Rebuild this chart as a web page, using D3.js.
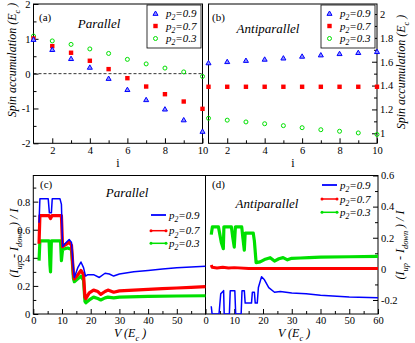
<!DOCTYPE html>
<html>
<head>
<meta charset="utf-8">
<script src="https://cdn.jsdelivr.net/npm/d3@7"></script>
<style>
  body { margin: 0; background: #fff; }
  svg { display: block; font-family: "Liberation Serif", "DejaVu Serif", serif; }
  .tick text { font-size: 10.5px; fill: #000; }
  .tick line { stroke: #000; }
</style>
</head>
<body>
<svg id="fig" width="415" height="343"></svg>
<script>
// ---- data ----
const sites = d3.range(1, 11)

// (a) parallel, spin accumulation per island
const parP09 = [0.98, 0.69, 0.43, 0.18, -0.14, -0.46, -0.75, -1.02, -1.33, -1.66]
const parP07 = [1.01, 0.79, 0.6, 0.37, 0.13, -0.13, -0.37, -0.59, -0.8, -1.01]
const parP03 = [1.08, 0.94, 0.84, 0.71, 0.58, 0.41, 0.28, 0.16, 0.05, -0.08]

// (b) antiparallel
const antiP09 = [1.59, 1.6, 1.61, 1.62, 1.63, 1.645, 1.656, 1.667, 1.676, 1.684]
const antiP07 = [1.39, 1.39, 1.39, 1.39, 1.39, 1.39, 1.39, 1.39, 1.39, 1.39]
const antiP03 = [1.126, 1.11, 1.095, 1.08, 1.064, 1.047, 1.03, 1.017, 1.003, 0.99]

// (c) parallel, current polarisation vs V  [V, value]
const polParP09 = [[2, 0.65], [2.3, 0.82], [5.2, 0.82], [5.6, 0.72], [6.3, 0.72], [6.6, 0.82], [9.3, 0.82], [9.8, 0.78],
  [10.2, 0.48], [11, 0.5], [12.5, 0.53], [13.3, 0.51], [14, 0.32], [14.3, 0.26], [15.5, 0.33], [16.6, 0.37], [17.5, 0.33],
  [18.2, 0.27], [19, 0.28], [21, 0.28], [23, 0.26], [25, 0.29], [26.5, 0.285], [28, 0.27], [30, 0.285], [35, 0.3],
  [40, 0.31], [45, 0.32], [50, 0.33], [55, 0.335], [60, 0.34]]
const polParP07 = [[2, 0.5], [2.3, 0.7], [5.5, 0.7], [6, 0.68], [6.5, 0.7], [9.8, 0.7], [10.2, 0.48], [11, 0.49],
  [12.5, 0.51], [13.3, 0.49], [14, 0.28], [14.3, 0.25], [15.5, 0.28], [16.6, 0.31], [17.5, 0.28], [18, 0.12], [18.3, 0.11],
  [19.5, 0.15], [21, 0.17], [22.5, 0.16], [23.5, 0.14], [25, 0.16], [26, 0.17], [28, 0.155], [30, 0.165], [35, 0.17],
  [40, 0.175], [45, 0.18], [50, 0.185], [55, 0.19], [60, 0.195]]
const polParP03 = [[2, 0.38], [2.3, 0.52], [5.5, 0.52], [5.8, 0.35], [6, 0.3], [6.3, 0.52], [9.5, 0.52], [9.8, 0.38],
  [10.2, 0.46], [11, 0.465], [12, 0.47], [13.3, 0.46], [14, 0.25], [14.3, 0.23], [15.5, 0.25], [16.6, 0.27], [17.5, 0.24],
  [18, 0.09], [18.3, 0.08], [19.5, 0.1], [21, 0.12], [22.5, 0.11], [23.5, 0.1], [25, 0.115], [26, 0.12], [28, 0.115],
  [30, 0.12], [40, 0.125], [50, 0.128], [60, 0.13]]

// (d) antiparallel
const polAntiP09 = [[2, -0.24], [2.3, -0.29], [4.7, -0.29], [5.3, -0.16], [6.3, -0.14], [6.5, -0.29], [8.3, -0.29],
  [8.6, -0.14], [10.2, -0.14], [10.5, -0.29], [12.4, -0.29], [12.7, -0.14], [13.5, -0.14], [13.8, -0.22], [16, -0.22],
  [16.3, -0.15], [17, -0.15], [17.3, -0.22], [18, -0.22], [18.4, -0.12], [19.5, -0.05], [20.5, -0.07], [22, -0.12],
  [24, -0.15], [26, -0.145], [28, -0.15], [30, -0.155], [35, -0.16], [40, -0.17], [50, -0.18], [60, -0.185]]
const polAntiP07 = [[2, 0.025], [2.3, 0.01], [4, 0.005], [6, 0.01], [8, 0.005], [10, 0.008], [15, 0.003], [20, 0.002],
  [30, 0.002], [60, 0.002]]
const polAntiP03 = [[2, 0.22], [2.4, 0.27], [4.5, 0.27], [5, 0.22], [5.5, 0.17], [6.2, 0.13], [6.4, 0.27], [9, 0.27],
  [9.5, 0.2], [10, 0.14], [10.4, 0.27], [12.6, 0.27], [13, 0.2], [13.5, 0.12], [13.8, 0.23], [16.6, 0.23], [17, 0.18],
  [17.6, 0.04], [19, 0.045], [20.5, 0.06], [22.5, 0.072], [24, 0.05], [25.5, 0.065], [27, 0.072], [28.5, 0.058],
  [30, 0.068], [33, 0.07], [36, 0.072], [40, 0.075], [50, 0.078], [60, 0.08]]

const legendLabels = ['0.9', '0.7', '0.3']
const blue = '#0000ff', red = '#ff0000', green = '#00e000'
const serif = '"Liberation Serif", "DejaVu Serif", serif'

// ---- scales ----
const xA = d3.scaleLinear().domain([1, 10]).range([33.5, 202.5])
const yA = d3.scaleLinear().domain([-2, 2]).range([143.3, 4])
const xB = d3.scaleLinear().domain([1, 10]).range([208.5, 377])
const yB = d3.scaleLinear().domain([0.916, 2.084]).range([143.3, 4])
const xC = d3.scaleLinear().domain([0, 60]).range([33.3, 205.5])
const yC = d3.scaleLinear().domain([0, 0.986]).range([314, 175.5])
const xD = d3.scaleLinear().domain([0, 60]).range([205.5, 378])
const yD = d3.scaleLinear().domain([-0.29, 0.6]).range([314, 175.5])

const svg = d3.select('#fig')

const frame = (x, y) => svg.append('rect')
  .attr('x', x.range()[0]).attr('y', y.range()[1])
  .attr('width', x.range()[1] - x.range()[0])
  .attr('height', y.range()[0] - y.range()[1])
  .attr('fill', 'none').attr('stroke', '#000').attr('stroke-width', 1)

const axis = (make, scale, pos, major, minor, fmt) => {
  const [tx, ty] = pos
  svg.append('g').attr('transform', `translate(${tx},${ty})`)
    .call(make(scale).tickValues(minor).tickSize(-3).tickFormat(''))
    .call(g => g.select('.domain').remove())
  svg.append('g').attr('transform', `translate(${tx},${ty})`)
    .call(make(scale).tickValues(major).tickSize(-5).tickPadding(3).tickFormat(fmt))
    .attr('font-family', serif).attr('font-size', 10.5)
    .call(g => g.select('.domain').remove())
}

// rich text: parts are [text, 'sub'|undefined]
const richText = (g, x, y, parts, size, italic) => {
  const t = g.append('text').attr('x', x).attr('y', y)
    .attr('font-size', size).attr('font-style', italic ? 'italic' : 'normal')
  let shift = 0
  parts.forEach(([s, kind]) => {
    const want = kind === 'sub' ? size * 0.3 : 0
    t.append('tspan').attr('dy', want - shift)
      .attr('font-size', kind === 'sub' ? size * 0.7 : size)
      .text(s)
    shift = want
  })
  return t
}

const label = (x, y, text, size, italic, anchor = 'start') => svg.append('text')
  .attr('x', x).attr('y', y).attr('font-size', size)
  .attr('font-style', italic ? 'italic' : 'normal')
  .attr('text-anchor', anchor).text(text)

const vlabel = (x, y, parts, size) => {
  const g = svg.append('g').attr('transform', `translate(${x},${y}) rotate(-90)`)
  richText(g, 0, 0, parts, size, true).attr('text-anchor', 'middle')
}

const marker = {
  tri: (g, x, y) => g.append('path').attr('d', d3.symbol(d3.symbolTriangle, 11)())
    .attr('transform', `translate(${x},${y + 0.4})`).attr('fill', '#9090ff').attr('stroke', blue).attr('stroke-width', 1),
  sq: (g, x, y) => g.append('rect').attr('x', x - 2.2).attr('y', y - 2.2).attr('width', 4.4).attr('height', 4.4)
    .attr('fill', red),
  circ: (g, x, y) => g.append('circle').attr('cx', x).attr('cy', y).attr('r', 2)
    .attr('fill', 'none').attr('stroke', green).attr('stroke-width', 1),
}

// ---- panel (a) ----
frame(xA, yA)
svg.append('line').attr('x1', xA.range()[0]).attr('x2', xA.range()[1])
  .attr('y1', yA(0)).attr('y2', yA(0))
  .attr('stroke', '#000').attr('stroke-dasharray', '3,2').attr('stroke-width', 0.8)
axis(d3.axisBottom, xA, [0, 143.3], [2, 4, 6, 8, 10], [3, 5, 7, 9], d3.format('d'))
axis(d3.axisLeft, yA, [33.5, 0], [-2, -1, 0, 1, 2], [-1.5, -0.5, 0.5, 1.5], d => String(d))

// ---- panel (b) ----
frame(xB, yB)
axis(d3.axisBottom, xB, [0, 143.3], [2, 4, 6, 8, 10], [3, 5, 7, 9], d3.format('d'))
axis(d3.axisRight, yB, [377, 0], [1, 1.2, 1.4, 1.6, 1.8, 2],
  [1.1, 1.3, 1.5, 1.7, 1.9], d => d === 1 || d === 2 ? String(d) : d3.format('.1f')(d))

const pts = svg.append('g')
const drawSites = (x, y, vals, kind) => vals.forEach((v, i) => marker[kind](pts, x(sites[i]), y(v)))
drawSites(xA, yA, parP03, 'circ')
drawSites(xA, yA, parP07, 'sq')
drawSites(xA, yA, parP09, 'tri')
drawSites(xB, yB, antiP03, 'circ')
drawSites(xB, yB, antiP07, 'sq')
drawSites(xB, yB, antiP09, 'tri')

// legends with boxes
const boxLegend = (x0, y0) => {
  const g = svg.append('g')
  g.append('rect').attr('x', x0).attr('y', 5).attr('width', 54).attr('height', 43)
    .attr('fill', '#fff').attr('stroke', '#000').attr('stroke-width', 0.8)
  const kinds = ['tri', 'sq', 'circ']
  kinds.forEach((k, i) => {
    const cy = 13.5 + i * 12.5
    marker[k](g, x0 + 8.5, cy)
    richText(g, x0 + 19, cy + 3.5, [['p'], ['2', 'sub'], ['=' + legendLabels[i]]], 11, true)
  })
}
boxLegend(147, 0)
boxLegend(321, 0)

label(39, 21, '(a)', 11, false)
label(99, 28, 'Parallel', 13, true, 'middle')
label(212, 21, '(b)', 11, false)
label(268, 33, 'Antiparallel', 13, true, 'middle')
label(118, 167, 'i', 12, false, 'middle')
label(293, 167, 'i', 12, false, 'middle')
vlabel(16, 60, [['Spin accumulation (E'], ['c', 'sub'], [' )']], 12)
vlabel(405, 72, [['Spin accumulation (E'], ['c', 'sub'], [' )']], 12)

// ---- panel (c) ----
frame(xC, yC)
axis(d3.axisBottom, xC, [0, 314], [0, 10, 20, 30, 40, 50], [5, 15, 25, 35, 45, 55], d3.format('d'))
axis(d3.axisLeft, yC, [33.3, 0], [0, 0.2, 0.4, 0.6, 0.8], [0.1, 0.3, 0.5, 0.7, 0.9],
  d => d === 0 ? '0' : d3.format('.1f')(d))

// ---- panel (d) ----
frame(xD, yD)
axis(d3.axisBottom, xD, [0, 314], [0, 10, 20, 30, 40, 50, 60], [5, 15, 25, 35, 45, 55], d3.format('d'))
axis(d3.axisRight, yD, [378, 0], [-0.2, 0, 0.2, 0.4, 0.6], [-0.1, 0.1, 0.3, 0.5],
  d => d === 0 ? '0' : String(d))

const curve = (x, y, data, color, width) => svg.append('path')
  .datum(data)
  .attr('d', d3.line().x(d => x(d[0])).y(d => y(d[1])))
  .attr('fill', 'none').attr('stroke', color).attr('stroke-width', width)
  .attr('stroke-linejoin', 'round')

svg.append('clipPath').attr('id', 'clipD').append('rect')
  .attr('x', 205.5).attr('y', 175.5).attr('width', 172.5).attr('height', 138.5)

curve(xC, yC, polParP03, green, 3.2)
curve(xC, yC, polParP07, red, 3.2)
curve(xC, yC, polParP09, blue, 1.5)
curve(xD, yD, polAntiP03, green, 3.2).attr('clip-path', 'url(#clipD)')
curve(xD, yD, polAntiP07, red, 3).attr('clip-path', 'url(#clipD)')
curve(xD, yD, polAntiP09, blue, 1.5).attr('clip-path', 'url(#clipD)')

const lineLegend = (x0, ys, textX) => {
  const g = svg.append('g')
  const cols = [blue, red, green]
  cols.forEach((c, i) => {
    g.append('line').attr('x1', x0).attr('x2', x0 + 15).attr('y1', ys[i]).attr('y2', ys[i])
      .attr('stroke', c).attr('stroke-width', i === 0 ? 1.8 : 1.5)
    if (i > 0) {
      [x0, x0 + 15].forEach(cx => g.append('circle').attr('cx', cx).attr('cy', ys[i]).attr('r', 1.5).attr('fill', c))
    }
    richText(g, textX, ys[i] + 3.5, [['p'], ['2', 'sub'], ['=' + legendLabels[i]]], 11, true)
  })
}
lineLegend(151, [215, 230.7, 243.3], 169)
lineLegend(322, [185, 199, 212.3], 340)

label(40, 188, '(c)', 11, false)
label(127, 197, 'Parallel', 13, true, 'middle')
label(212, 188, '(d)', 11, false)
label(267, 208, 'Antiparallel', 13, true, 'middle')
const vParts = [['V (E'], ['c', 'sub'], [' )']]
richText(svg, 114, 337, vParts, 12, true)
richText(svg, 278, 337, vParts, 12, true)
const iParts = [['(I'], ['up', 'sub'], [' - I'], ['down', 'sub'], [' ) / I']]
vlabel(18, 243, iParts, 12)
vlabel(404, 245, iParts, 12)
</script>
</body>
</html>
